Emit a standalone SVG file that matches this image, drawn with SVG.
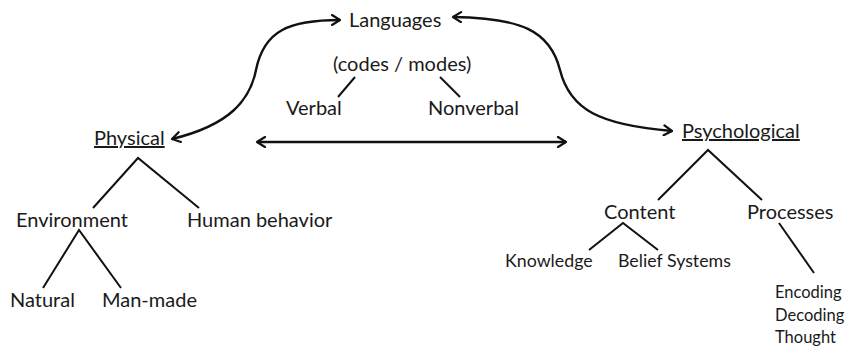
<svg xmlns="http://www.w3.org/2000/svg" width="849" height="348" viewBox="0 0 849 348">
<defs>
<marker id="ah" viewBox="0 0 12 12" refX="10" refY="6" markerWidth="12" markerHeight="12" markerUnits="userSpaceOnUse" orient="auto-start-reverse">
<path d="M2,1 L10,6 L2,11" fill="none" stroke="#111" stroke-width="2.2" stroke-linecap="round" stroke-linejoin="round"/>
</marker>
</defs>
<style>
text{font-family:Lato,"Open Sans",sans-serif;fill:#1a1a1a;font-size:20px}
.s{font-size:17.8px}
.t{font-size:16.5px}
.u{text-decoration:underline}
.ln{stroke:#111;stroke-width:2;fill:none}
.ar{stroke:#111;stroke-width:2.4;fill:none}
</style>
<g id="connectors">
<path class="ar" d="M172,139 C230,125 250,100 256,70 C264,30 290,20 340,20" marker-start="url(#ah)" marker-end="url(#ah)"/>
<path class="ar" d="M453,17 C520,18 550,30 560,70 C570,110 600,125 672,131" marker-start="url(#ah)" marker-end="url(#ah)"/>
<line class="ar" x1="257" y1="142" x2="566" y2="142" marker-start="url(#ah)" marker-end="url(#ah)"/>
<line class="ln" x1="355" y1="77" x2="338" y2="97"/>
<line class="ln" x1="440" y1="77" x2="460" y2="97"/>
<polyline class="ln" points="93,208 138,158 199,208"/>
<polyline class="ln" points="43,288 79,230 121,288"/>
<polyline class="ln" points="658,200 708,150 762,200"/>
<polyline class="ln" points="589,250 623,223 658,250"/>
<line class="ln" x1="779" y1="223" x2="814" y2="273"/>
</g>
<g id="languages"><text x="349" y="27">Languages</text></g>
<g id="codes"><text x="333" y="71">(codes / modes)</text></g>
<g id="verbal"><text x="286" y="115">Verbal</text></g>
<g id="nonverbal"><text x="428" y="115">Nonverbal</text></g>
<g id="physical"><text class="u" x="94" y="145">Physical</text></g>
<g id="environment"><text x="16" y="227">Environment</text></g>
<g id="human"><text x="187" y="227">Human behavior</text></g>
<g id="natural"><text x="10" y="307">Natural</text></g>
<g id="manmade"><text x="102" y="307">Man-made</text></g>
<g id="psychological"><text class="u" x="682" y="138">Psychological</text></g>
<g id="content"><text x="604" y="219">Content</text></g>
<g id="processes"><text x="747" y="219">Processes</text></g>
<g id="knowledge"><text class="s" x="505" y="267">Knowledge</text></g>
<g id="belief"><text class="s" x="618" y="267">Belief Systems</text></g>
<g id="processlist"><text class="t" x="775" y="298">Encoding</text><text class="t" x="775" y="321">Decoding</text><text class="t" x="775" y="343">Thought</text></g>
</svg>
